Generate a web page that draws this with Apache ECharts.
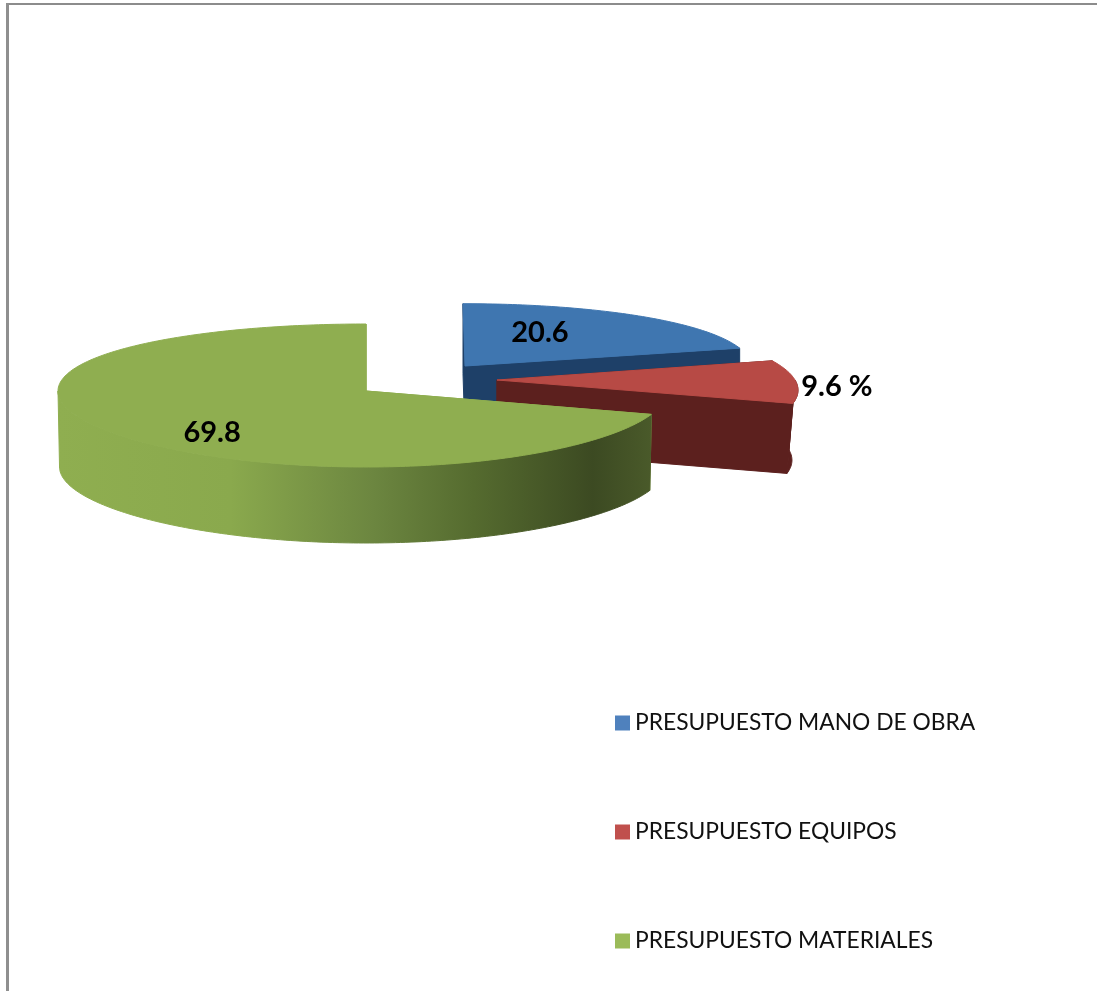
<!DOCTYPE html>
<html>
<head>
<meta charset="utf-8">
<style>
  html, body { margin: 0; padding: 0; background: #fff; }
  #chart { width: 1097px; height: 991px; }
</style>
<script src="https://cdn.jsdelivr.net/npm/echarts@6/dist/echarts.min.js"></script>
</head>
<body>
<div id="chart"></div>
<script>
// Budget shares, percent of the total
const categories = ['PRESUPUESTO MANO DE OBRA', 'PRESUPUESTO EQUIPOS', 'PRESUPUESTO MATERIALES'];
const shares = [20.6, 9.6, 69.8];
const valueSuffix = ['', ' %', ''];
const legendColors = ['#4f81bd', '#c0504d', '#9bbb59'];

// Drawing styles and the placement of each exploded wedge
const wedgeStyles = [
  { cx: 465, cy: 366, kx: 0.95, ky: 0.93, lean: 2, taper: 1, depth: 70,
    top: '#3f76b0', cut: '#1e4068', rim: '#1e4068',
    label: { frac: 0.6, dx: -28, dy: -3 } },
  { cx: 497, cy: 380, kx: 0.99, ky: 1, lean: 42, taper: 0.98, depth: 70,
    top: '#b74a45', cut: '#5c201e', rim: '#5c201e',
    label: { frac: 1, dx: 41, dy: 5 } },
  { cx: 366, cy: 391, kx: 1, ky: 1, lean: 0, taper: 0.995, depth: 76,
    top: '#8fae50', cut: '#8fae50',
    rim: new echarts.graphic.LinearGradient(58, 0, 652, 0, [
      { offset: 0, color: '#8fae50' },
      { offset: 0.29, color: '#8aa94d' },
      { offset: 0.53, color: '#6c8640' },
      { offset: 0.7, color: '#556b2f' },
      { offset: 0.9, color: '#3c4a22' },
      { offset: 1, color: '#4a5a2a' }
    ], true),
    label: { frac: 0.6, dx: -4, dy: 16 } }
];

// Tilted-disc projection: the near side is drawn deeper than the far side
const RADIUS_X = 304.5, SKEW_X = 3.5, RADIUS_Y = 71.5, BOW_Y = 4.5;

function project(style, angle, bottom) {
  const s = Math.sin(angle), t = -Math.cos(angle);
  const taper = bottom ? style.taper : 1;
  return [
    style.cx + taper * (style.kx * (RADIUS_X * s - SKEW_X * s * s) + style.lean * t),
    style.cy + style.ky * (RADIUS_Y * t + BOW_Y * t * t) + (bottom ? style.depth : 0)
  ];
}

function wedgeAngles(index) {
  const total = shares.reduce((a, b) => a + b, 0);
  const before = shares.slice(0, index).reduce((a, b) => a + b, 0);
  return [before / total * 2 * Math.PI, (before + shares[index]) / total * 2 * Math.PI];
}

function arc(from, to) {
  const list = [];
  const steps = Math.max(2, Math.ceil(Math.abs(to - from) / (Math.PI / 180)));
  for (let i = 0; i <= steps; i++) list.push(from + (to - from) * i / steps);
  return list;
}

// Each face is stroked in its own colour so no seam opens between neighbours
function poly(points, fill) {
  return {
    type: 'polygon',
    shape: { points },
    style: { fill, stroke: fill, lineWidth: 1, lineJoin: 'round' }
  };
}

function renderWedge(params, api) {
  const index = params.seriesIndex;
  const style = wedgeStyles[index];
  const [a0, a1] = wedgeAngles(index);
  const apex = [style.cx, style.cy];
  const apexLow = [style.cx, style.cy + style.depth];
  const children = [];

  // Flat cut faces, far one first
  [a0, a1].forEach(a => {
    children.push(poly([apex, project(style, a, false), project(style, a, true), apexLow], style.cut));
  });

  // Outer wall, only where it faces the viewer
  const from = Math.max(a0, Math.PI / 2), to = Math.min(a1, Math.PI * 1.5);
  if (to > from) {
    const angles = arc(from, to);
    children.push(poly(
      angles.map(a => project(style, a, false))
        .concat(angles.slice().reverse().map(a => project(style, a, true))),
      style.rim
    ));
  }

  // Top face
  children.push(poly([apex].concat(arc(a0, a1).map(a => project(style, a, false))), style.top));

  // Value label
  const mid = (a0 + a1) / 2;
  const rim = project(style, mid, false);
  children.push({
    type: 'text',
    x: style.cx + (rim[0] - style.cx) * style.label.frac + style.label.dx,
    y: style.cy + (rim[1] - style.cy) * style.label.frac + style.label.dy,
    style: {
      text: api.value(0) + valueSuffix[index],
      fill: '#000',
      font: 'bold 29px Lato',
      align: 'center',
      verticalAlign: 'middle'
    }
  });
  return { type: 'group', children };
}

const chart = echarts.init(document.getElementById('chart'), null, { renderer: 'canvas' });
chart.setOption({
  animation: false,
  backgroundColor: '#fff',
  graphic: [
    { type: 'rect', shape: { x: 6, y: 3, width: 1091, height: 2 }, style: { fill: '#8c8c8c' } },
    { type: 'rect', shape: { x: 6, y: 3, width: 3, height: 988 }, style: { fill: '#8f8f8f' } }
  ],
  legend: {
    orient: 'vertical',
    left: 615,
    top: 708,
    padding: 0,
    icon: 'rect',
    itemWidth: 15,
    itemHeight: 15,
    itemGap: 79,
    selectedMode: false,
    textStyle: { fontFamily: 'Lato', fontSize: 22.8, color: '#111', lineHeight: 27, padding: [0, 0, 3, 0] },
    data: categories
  },
  series: categories.map((name, i) => ({
    type: 'custom',
    name,
    coordinateSystem: 'none',
    silent: true,
    z: 2 + i,
    itemStyle: { color: legendColors[i] },
    renderItem: renderWedge,
    data: [[shares[i]]]
  }))
});
</script>
</body>
</html>
